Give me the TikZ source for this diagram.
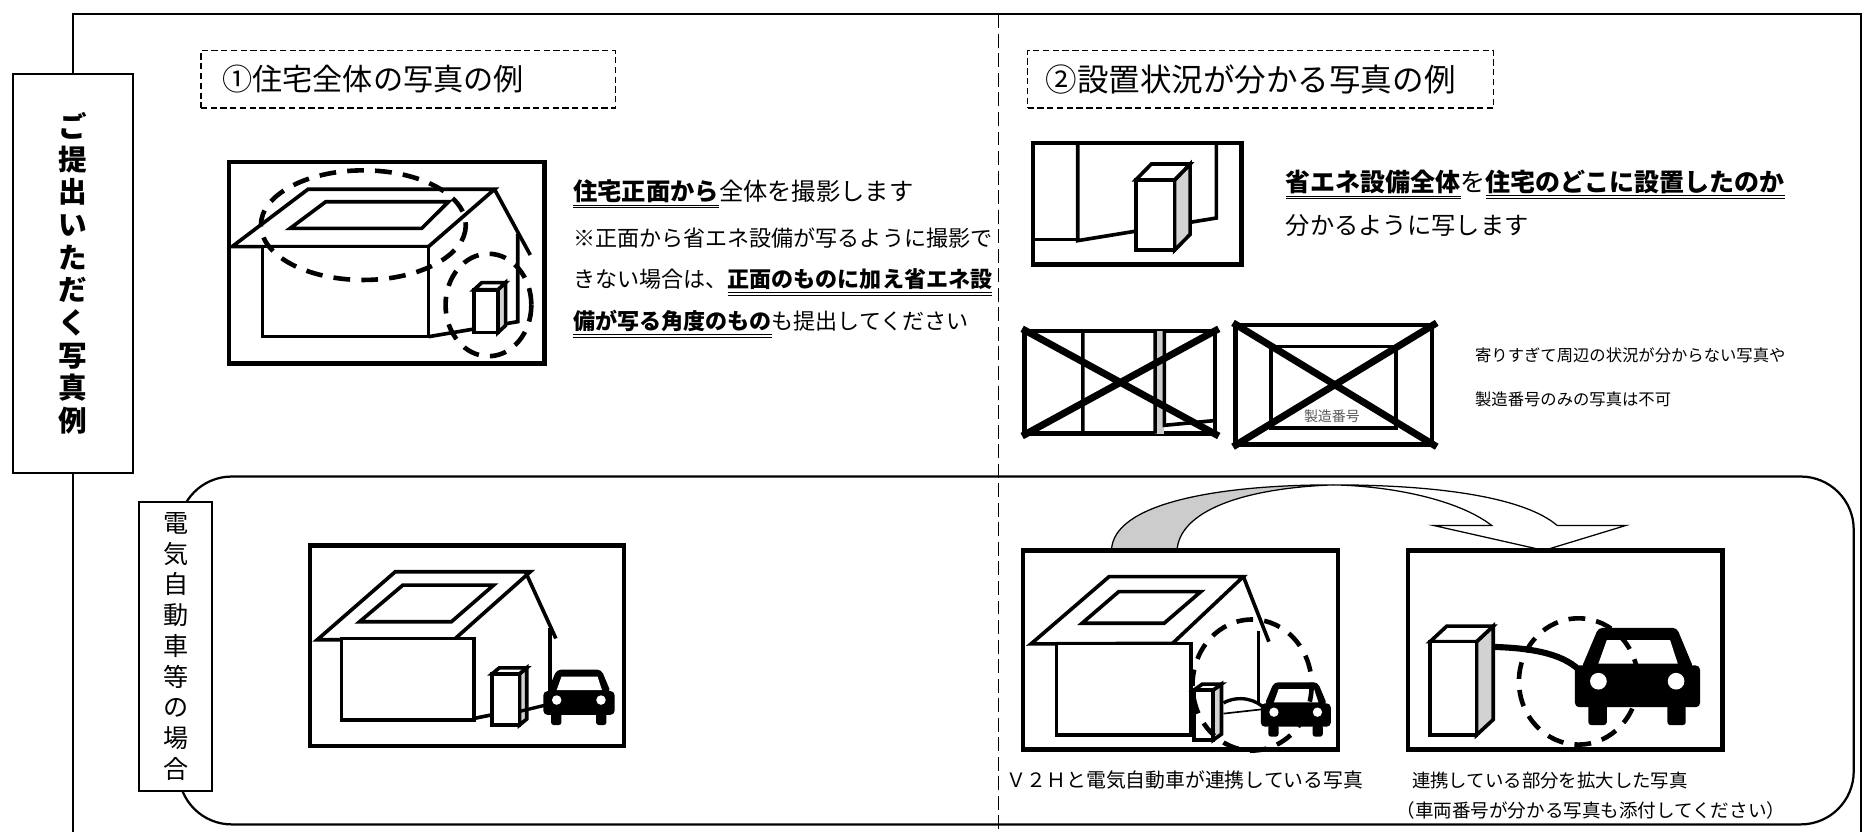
\documentclass[tikz,border=0pt]{standalone}
\usepackage{fontspec}
\setmainfont{Noto Sans CJK JP}
\newcommand\dline[1]{$\underline{\underline{\hbox{#1}}}$}

\begin{document}
\begin{tikzpicture}[x=0.03cm,y=-0.03cm]
  \tikzset{
    frame/.style={line width=1.6pt},
    photo/.style={draw,line width=3.2pt},
    wall/.style={line width=2.6pt},
    ring/.style={line width=3.3pt,dash pattern=on 12pt off 8pt},
    cross/.style={line width=5pt},
    tag/.style={draw,fill=white,line width=1.5pt,align=center,inner sep=0pt},
    title/.style={draw,line width=1pt,dash pattern=on 4.5pt off 2.5pt,anchor=north west,align=left,inner ysep=0pt,minimum height=1.44cm},
    txt/.style={anchor=west,inner sep=0pt},
    pics/car/.style={code={
      \fill[rounded corners=3pt] (-47,-48) -- (-32.8,-81.6) -- (33,-81.6) -- (47,-48) -- cycle;
      \fill[rounded corners=3pt] (-52.5,-15) rectangle (52.5,-50);
      \fill[white] (-32.8,-51.6) -- (-25.8,-71.2) -- (27.4,-71.2) -- (33.8,-51.6) -- cycle;
      \fill[white] (-32.8,-36.8) circle (7) (32.4,-36.8) circle (7);
      \fill[rounded corners=2pt] (-41.2,-18) rectangle (-25.8,0) (25.1,-18) rectangle (40.5,0);
    }},
    pics/unit/.style n args={4}{code={
      \draw[wall,fill=gray!35] (#1,0) -- (#1,-#2) -- ++(#3,-#4) -- ++(0,#2) -- cycle;
      \draw[wall,fill=white] (0,-#2) -- ++(#3,-#4) -- ++(#1,0) -- (#1,-#2) -- cycle;
      \draw[wall,fill=white] (0,0) rectangle (#1,-#2);
    }}
  }
  \useasboundingbox (0,0) rectangle (1568,698);

  % outer frame, divider and the EV panel
  \draw[frame] (61,699) -- (61,12) -- (1562,12) -- (1562,699);
  \draw[line width=1pt,dash pattern=on 10pt off 4pt] (838,12) -- (838,698);
  \draw[frame,rounded corners=38pt] (150,400) rectangle (1556,692);

  \node[tag,minimum width=3.03cm,minimum height=10.05cm,font=\fontsize{20.5}{23.4}\selectfont\bfseries] (sample) at (61.5,229.5)
    {ご\\提\\出\\い\\た\\だ\\く\\写\\真\\例};
  \node[tag,minimum width=1.83cm,minimum height=7.29cm,font=\fontsize{18}{22}\selectfont] (evcase) at (147.5,542.5)
    {電\\気\\自\\動\\車\\等\\の\\場\\合};

  % headings
  \node[title,text width=9.36cm,inner xsep=0.54cm,font=\fontsize{21.6}{26}\selectfont] (head1) at (168,42) {①住宅全体の写真の例};
  \node[title,text width=10.83cm,inner xsep=0.45cm,font=\fontsize{22.6}{26}\selectfont] (head2) at (862,42) {②設置状況が分かる写真の例};

  % (1) whole house
  \draw[photo] (192,136) rectangle (457,305);
  \draw[wall] (194.8,207) -- (258.5,158.9) -- (415.1,158.9) -- (359.7,207) -- cycle;
  \draw[wall] (243.5,191.7) -- (273.5,169.3) -- (376.5,169.3) -- (354,191.7) -- cycle;
  \draw[wall] (415.1,158.9) -- (445.1,214);
  \draw[wall] (434.6,196) -- (434.6,270) -- (359.7,282.6);
  \draw[wall,fill=white] (220.3,207) rectangle (359.7,282.6);
  \pic at (397.9,279.2) {unit={20}{36}{6.5}{6}};
  \draw[ring] (305,189) ellipse [x radius=86,y radius=46];
  \draw[ring] (410,256) ellipse [x radius=36,y radius=43];

  \node[txt,font=\fontsize{17.4}{20}\selectfont] (t1a) at (481,163) {\dline{\bfseries 住宅正面から}全体を撮影します};
  \node[txt,font=\fontsize{15.8}{19}\selectfont] (t1b) at (481,200) {※正面から省エネ設備が写るように撮影で};
  \node[txt,font=\fontsize{15.8}{19}\selectfont] (t1c) at (481,237) {きない場合は、\dline{\bfseries 正面のものに加え省エネ設}};
  \node[txt,font=\fontsize{15.8}{19}\selectfont] (t1d) at (481,272) {\dline{\bfseries 備が写る角度のもの}も提出してください};

  % (2) where the unit stands
  \draw[photo] (867,120) rectangle (1042,222);
  \draw[wall] (904.6,120) -- (904.6,202) -- (1021,183) -- (1021,120);
  \draw[wall] (867,201) -- (904.6,201);
  \pic at (953.4,210) {unit={32.6}{59}{13}{13.3}};

  \node[txt,font=\fontsize{17.9}{21}\selectfont] (t2a) at (1079,155) {\dline{\bfseries 省エネ設備全体}を\dline{\bfseries 住宅のどこに設置したのか}};
  \node[txt,font=\fontsize{17.4}{21}\selectfont] (t2b) at (1079,189) {分かるように写します};

  % rejected shots
  \draw[photo] (860,278) rectangle (1020,364);
  \fill[gray!40] (969.6,278) rectangle (977.4,364);
  \draw[wall] (909,278) -- (909,364) (969.6,278) -- (969.6,364) (977.4,278) -- (977.4,357) -- (1020,353);
  \draw[cross] (858,276) -- (1023,366) (858,366) -- (1023,276);

  \draw[photo] (1037,273) rectangle (1202,373);
  \draw[wall] (1067,291) rectangle (1172,359.5);
  \node[font=\fontsize{10}{12}\selectfont,text=black!65] (serial) at (1118,349) {製造番号};
  \draw[cross] (1035,271) -- (1206,375) (1035,375) -- (1206,271);

  \node[txt,font=\fontsize{11.7}{14}\selectfont] (t3a) at (1238,298) {寄りすぎて周辺の状況が分からない写真や};
  \node[txt,font=\fontsize{11.7}{14}\selectfont] (t3b) at (1238,335) {製造番号のみの写真は不可};

  % EV: house with charger and car
  \draw[photo] (260,458) rectangle (524,626);
  \draw[wall] (266.3,537) -- (331.8,479.9) -- (445.2,479.9) -- (381,537) -- cycle;
  \draw[wall] (301.8,521.9) -- (338.2,491.1) -- (414.4,491.1) -- (378.9,521.9) -- cycle;
  \draw[wall] (441,479.9) -- (466.6,535.9);
  \draw[wall] (461.5,527.5) -- (461.5,594);
  \draw[wall,fill=white] (286.8,536) rectangle (398.1,604.4);
  \draw[wall] (398.1,603) -- (413.1,600);
  \pic at (413.1,608.6) {unit={23}{43}{6}{5}};
  \draw[line width=2.4pt] (436.7,597) -- (461.5,591);
  \pic[scale=0.57] at (486,608.6) {car};

  % curved block arrow between the two V2H shots
  \draw[line width=0.9pt,fill=gray!40] (933,462) .. controls (934,423) and (1020,407) .. (1119,407)
    .. controls (1040,410) and (990,430) .. (988,462) -- cycle;
  \draw[line width=0.9pt,fill=white] (1119,407) .. controls (1210,407) and (1280,418) .. (1307,441)
    -- (1365,441) -- (1296,462) -- (1203,441) -- (1252,441)
    .. controls (1225,420) and (1170,408) .. (1119,407) -- cycle;

  \draw[photo] (858.5,462) rectangle (1123,629);
  \draw[wall] (865.4,540.5) -- (931,484) -- (1043.7,484) -- (984.3,540) -- cycle;
  \draw[wall] (908.2,523.2) -- (939.1,496.6) -- (1008,496.6) -- (977.1,523.2) -- cycle;
  \draw[wall] (1043.7,484) -- (1065.1,538.6);
  \draw[wall] (1056.5,530) -- (1056.5,590);
  \draw[wall,fill=white] (886.8,540) rectangle (999.5,617);
  \pic at (1002.3,621.2) {unit={16}{42}{7}{5}};
  \draw[line width=2.4pt] (1027,590) .. controls (1040,583) and (1055,587) .. (1063,596);
  \draw[line width=1.2pt] (1027,599) -- (1063,595);
  \pic[scale=0.56] at (1087.7,618.4) {car};
  \draw[ring] (1051,575) ellipse [x radius=50,y radius=55];

  \draw[photo] (1182,462) rectangle (1446,629);
  \pic at (1200.4,617) {unit={39}{78.4}{14}{13}};
  \draw[line width=4.4pt] (1253,543) .. controls (1290,544) and (1315,550) .. (1328,565);
  \pic at (1374.5,608.6) {car};
  \draw[ring] (1325,572) ellipse [x radius=50,y radius=53];

  \node[txt,font=\fontsize{14.2}{17}\selectfont] (cap1) at (845,655) {Ｖ２Ｈと電気自動車が連携している写真};
  \node[txt,font=\fontsize{13.2}{16}\selectfont] (cap2) at (1185,655) {連携している部分を拡大した写真};
  \node[txt,font=\fontsize{13.3}{16}\selectfont] (cap3) at (1172,680) {（車両番号が分かる写真も添付してください）};
\end{tikzpicture}
\end{document}
